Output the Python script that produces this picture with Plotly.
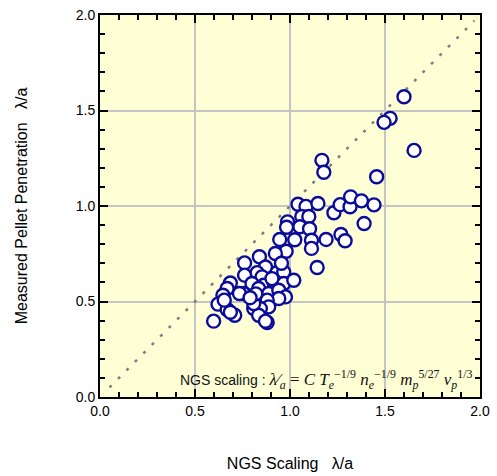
import plotly.graph_objects as go

# NGS-predicted vs measured pellet penetration depth, both normalised by minor radius a
ngs_scaling = [
    1.600, 1.527, 1.495, 1.653, 1.168, 1.178, 1.456, 1.042, 1.084, 1.147,
    1.231, 1.264, 1.316, 1.319, 1.376, 1.442, 1.390, 1.268, 1.290, 1.062,
    1.099, 0.987, 0.982, 1.052, 1.103, 1.025, 1.113, 1.190, 0.946, 1.113,
    1.143, 0.980, 0.923, 0.839, 0.871, 0.827, 0.761, 0.761, 0.932, 0.967,
    0.853, 0.800, 0.862, 0.915, 0.967, 1.020, 0.835, 0.888, 0.941, 0.976,
    0.941, 0.880, 0.888, 0.809, 0.844, 0.835, 0.880, 0.686, 0.669, 0.647,
    0.756, 0.734, 0.621, 0.669, 0.709, 0.598, 0.809, 0.871, 0.654, 0.686,
    0.905, 0.955, 0.820, 0.790,
]
measured = [
    1.572, 1.459, 1.438, 1.291, 1.239, 1.177, 1.153, 1.009, 0.998, 1.013,
    0.965, 1.007, 0.996, 1.048, 1.027, 1.006, 0.908, 0.851, 0.818, 0.945,
    0.945, 0.917, 0.889, 0.891, 0.881, 0.823, 0.821, 0.825, 0.825, 0.778,
    0.678, 0.763, 0.751, 0.734, 0.681, 0.651, 0.702, 0.638, 0.652, 0.655,
    0.629, 0.594, 0.585, 0.603, 0.594, 0.611, 0.568, 0.542, 0.559, 0.524,
    0.516, 0.507, 0.472, 0.463, 0.463, 0.428, 0.390, 0.597, 0.568, 0.533,
    0.542, 0.542, 0.486, 0.458, 0.428, 0.397, 0.489, 0.397, 0.507, 0.444,
    0.620, 0.700, 0.540, 0.520,
]

# reference line lambda_measured = lambda_NGS
unity_line = [0.05, 1.97]

axis_ticks = [0.0, 0.5, 1.0, 1.5, 2.0]
axis_labels = ["0.0", "0.5", "1.0", "1.5", "2.0"]

fig = go.Figure()

fig.add_trace(go.Scatter(
    x=unity_line, y=unity_line, mode="lines",
    line=dict(color="#7d7d7d", width=2.5, dash="3px,9px"),
    hoverinfo="skip", showlegend=False,
))

fig.add_trace(go.Scatter(
    x=ngs_scaling, y=measured, mode="markers",
    marker=dict(size=13, color="white", line=dict(color="#0b0b9a", width=2.4)),
    showlegend=False,
))

sans = "Liberation Sans, Arial, sans-serif"
serif = "font-family:Liberation Serif, Times New Roman, serif;font-size:17px"

formula = (
    "NGS scaling : "
    f"<span style='{serif}'>"
    "<i>λ</i>⁄<sub><i>a</i></sub> = <i>C T<sub>e</sub></i><sup>−1/9</sup> "
    "<i>n<sub>e</sub></i><sup>−1/9</sup> "
    "<i>m<sub>p</sub></i><sup>5/27</sup> "
    "<i>v<sub>p</sub></i><sup>1/3</sup>"
    "</span>"
)

fig.add_annotation(
    x=1.975, y=0.09, xref="x", yref="y", text=formula, showarrow=False,
    xanchor="right", yanchor="middle", font=dict(family=sans, size=14, color="#111"),
)

axis_common = dict(
    range=[0, 2.0], tickvals=axis_ticks, ticktext=axis_labels,
    ticks="inside", ticklen=8, tickwidth=1.5, tickcolor="black",
    showline=True, linewidth=2, linecolor="black", mirror="allticks",
    showgrid=True, gridcolor="#c4c4c4", gridwidth=2,
    zeroline=False, automargin=False,
    minor=dict(dtick=0.1, ticks="inside", ticklen=5, tickwidth=1.5,
               tickcolor="black", showgrid=False),
    tickfont=dict(family=sans, size=14, color="black"),
)

fig.update_xaxes(
    **axis_common,
    title=dict(text="NGS Scaling   λ/a", font=dict(family=sans, size=16, color="black"),
               standoff=40),
)
fig.update_yaxes(
    **axis_common,
    title=dict(text="Measured Pellet Penetration   λ/a",
               font=dict(family=sans, size=16, color="black"), standoff=44),
)

fig.update_layout(
    width=497, height=476,
    margin=dict(l=100, r=17, t=15, b=79),
    paper_bgcolor="white", plot_bgcolor="#ffffd6",
)

fig.write_html("out.html")
